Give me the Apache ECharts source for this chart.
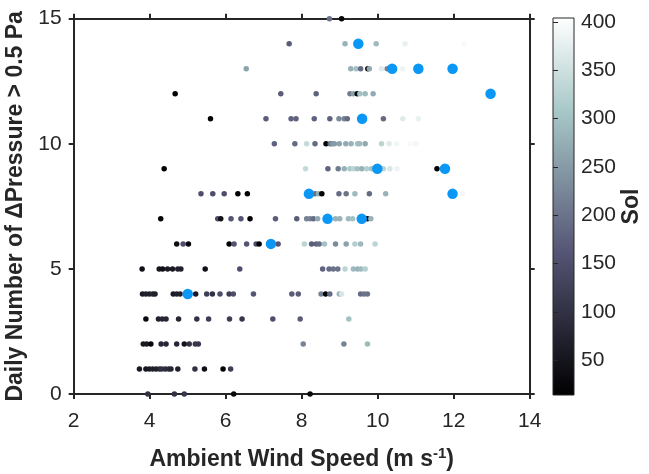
<!DOCTYPE html>
<html><head><meta charset="utf-8">
<script src="https://cdn.jsdelivr.net/npm/echarts@6/dist/echarts.min.js"></script>
<style>html,body{margin:0;padding:0;background:#fff}#c{width:649px;height:474px}</style>
</head><body><div id="c"></div>
<script>
// Daily count levels (y) with per-row wind speeds (x) and sols (colour)
const countLevels = [15,14,13,12,11,10,9,8,7,6,5,4,3,2,1,0];
const windByCount = [
  [8.73,9.05],
  [7.67,9.14,9.96,10.72,12.28],
  [6.54,9.29,9.43,9.55,9.74,9.78,10.1,10.25,10.65],
  [4.67,7.45,8.38,9.27,9.36,9.46,9.53,9.67,9.88],
  [5.6,7.06,7.72,7.85,8.33,8.74,8.98,9.12,9.2,10.15,10.66,11.07],
  [7.28,7.82,8.13,8.35,8.64,8.75,8.8,8.86,8.99,9.16,9.3,9.47,9.52,9.67,10.1,10.3,10.5,10.85,11.0],
  [4.38,8.1,8.69,8.96,9.12,9.27,9.36,9.46,9.58,9.71,9.84,10.15,10.32,10.51,11.56],
  [5.35,5.66,5.96,6.32,6.57,8.35,8.44,8.53,8.98,9.17,9.4,9.78,10.21,12.23],
  [4.29,5.79,5.87,6.14,6.4,6.64,7.31,7.87,8.13,8.22,8.31,8.42,8.89,9.0,9.23,9.34,9.73,9.82],
  [4.71,4.88,5.02,6.09,6.22,6.55,6.8,6.88,7.38,8.07,8.26,8.38,8.46,8.6,8.89,9.17,9.4,9.55,9.93],
  [3.8,4.25,4.34,4.47,4.6,4.74,4.82,5.46,6.37,8.55,8.72,8.83,8.95,9.14,9.36,9.47,9.56,9.67],
  [3.81,3.9,3.99,4.08,4.14,4.62,4.71,4.8,5.21,5.5,5.65,5.85,6.09,6.2,6.73,7.74,7.91,8.51,8.63,8.74,8.99,9.05,9.55,9.64,9.73],
  [3.9,4.23,4.33,4.43,4.76,5.24,5.55,6.1,6.43,7.24,7.96,9.24],
  [3.83,3.92,4.03,4.3,4.43,4.71,4.91,5.04,5.2,5.28,8.04,9.11,9.73],
  [3.73,3.9,3.99,4.08,4.17,4.26,4.32,4.41,4.5,4.56,4.74,5.19,5.44,5.93,6.13],
  [3.95,4.65,4.91,6.21,8.22]
];
const solByCount = [
  [200,25],
  [170,280,290,380,395],
  [260,280,300,190,20,270,370,220,385],
  [20,170,180,210,260,20,300,290,270],
  [20,170,180,180,180,180,230,220,190,190,370,380],
  [180,190,340,190,20,190,240,250,260,270,280,300,290,270,330,370,390,395,390],
  [20,340,180,210,280,310,330,300,280,320,300,330,360,385,20],
  [150,150,150,20,20,190,270,20,190,200,290,190,280,390],
  [25,150,40,160,160,20,170,170,220,220,190,270,280,280,290,300,20,280],
  [40,150,30,20,160,160,150,20,160,330,170,180,190,300,230,260,320,290,330],
  [40,50,40,60,60,70,70,40,150,180,190,200,200,330,290,280,290,320],
  [60,70,70,80,70,60,70,70,60,120,100,150,120,150,160,170,170,220,20,190,280,360,190,200,200],
  [30,70,80,80,80,100,120,120,110,150,170,300],
  [60,60,30,80,80,80,50,100,110,110,220,220,290],
  [60,50,60,70,70,80,100,90,90,80,70,100,40,20,120],
  [100,100,110,30,30]
];
// Large blue markers
const meanWind  = [9.49,10.38,11.07,11.97,12.97,9.59,9.99,11.77,8.19,11.97,8.68,9.58,7.19,5.0];
const meanCount = [14,13,13,13,12,11,9,9,8,8,7,7,6,4];
const solTicks = [50,100,150,200,250,300,350,400];
const solMin = 14, solMax = 404;
const boneColors = ['#000000','#1c1c27','#38384d','#545474','#707a8f','#8ba1ab','#a7c7c7','#d3e3e3','#ffffff'];

const small = [];
countLevels.forEach((c,i)=>windByCount[i].forEach((w,j)=>small.push([w,c,solByCount[i][j]])));
const big = meanWind.map((w,i)=>[w,meanCount[i]]);

const ink = '#262626';
const font = 'Liberation Sans, Arial, Helvetica, sans-serif';
const chart = echarts.init(document.getElementById('c'), null, {renderer:'canvas'});
chart.setOption({
  animation:false,
  backgroundColor:'#fff',
  textStyle:{fontFamily:font},
  grid:[
    {left:73.7, top:18.7, right:119.3, bottom:80, containLabel:false, outerBoundsMode:'none'},
    {left:553, top:18, width:21, height:377, show:true, borderColor:ink, borderWidth:1, outerBoundsMode:'none',
     backgroundColor:{type:'linear',x:0,y:1,x2:0,y2:0,
       colorStops:boneColors.map((c,i)=>({offset:i/(boneColors.length-1),color:c}))}}
  ],
  xAxis:[
    {type:'value', gridIndex:0, position:'bottom', min:2, max:14, interval:2,
     axisLine:{onZero:false, lineStyle:{color:ink, width:2}},
     axisTick:{inside:false, length:5, lineStyle:{color:ink, width:2}},
     axisLabel:{fontSize:21, color:ink, margin:17, fontFamily:font},
     splitLine:{show:false},
     name:'{a|Ambient Wind Speed (m s}{s|-1}{a|)}', nameLocation:'middle', nameGap:52,
     nameTextStyle:{rich:{
       a:{fontSize:23, fontWeight:'bold', color:ink, fontFamily:font, lineHeight:28},
       s:{fontSize:15, fontWeight:'bold', color:ink, fontFamily:font, lineHeight:15, verticalAlign:'top'}
     }}},
    {type:'value', gridIndex:0, position:'top', min:2, max:14, interval:2,
     axisLine:{onZero:false, lineStyle:{color:ink, width:2}},
     axisTick:{inside:false, length:5, lineStyle:{color:ink, width:2}},
     axisLabel:{show:false}, splitLine:{show:false}},
    {type:'value', gridIndex:1, min:0, max:1, show:false}
  ],
  yAxis:[
    {type:'value', gridIndex:0, position:'left', min:0, max:15, interval:5,
     axisLine:{show:true, onZero:false, lineStyle:{color:ink, width:2}},
     axisTick:{show:true, inside:false, length:5, lineStyle:{color:ink, width:2}},
     axisLabel:{fontSize:21, color:ink, margin:12, fontFamily:font},
     splitLine:{show:false},
     name:'Daily Number of ΔPressure > 0.5 Pa', nameLocation:'middle', nameGap:42,
     nameTextStyle:{fontSize:23, fontWeight:'bold', color:ink, fontFamily:font}},
    {type:'value', gridIndex:0, position:'right', min:0, max:15, interval:5,
     axisLine:{show:true, onZero:false, lineStyle:{color:ink, width:2}},
     axisTick:{show:true, inside:false, length:5, lineStyle:{color:ink, width:2}},
     axisLabel:{show:false}, splitLine:{show:false}},
    {type:'value', gridIndex:1, position:'right', min:solMin, max:solMax,
     axisLine:{show:false},
     axisTick:{show:true, inside:false, length:5, customValues:solTicks, lineStyle:{color:ink, width:1}},
     axisLabel:{fontSize:21, color:ink, margin:7, fontFamily:font, customValues:solTicks},
     splitLine:{show:false},
     name:'Sol', nameLocation:'middle', nameRotate:90, nameGap:44,
     nameTextStyle:{fontSize:23, fontWeight:'bold', color:ink, fontFamily:font}}
  ],
  visualMap:{type:'continuous', show:false, min:solMin, max:solMax, dimension:2, seriesIndex:0,
    inRange:{color:boneColors}},
  series:[
    {type:'scatter', xAxisIndex:0, yAxisIndex:0, data:small, symbolSize:5.5, clip:false,
     itemStyle:{opacity:1}, z:2},
    {type:'scatter', xAxisIndex:0, yAxisIndex:0, data:big, symbolSize:10.5, clip:false,
     itemStyle:{color:'#0a97f5', opacity:1}, z:3}
  ]
});
</script></body></html>
